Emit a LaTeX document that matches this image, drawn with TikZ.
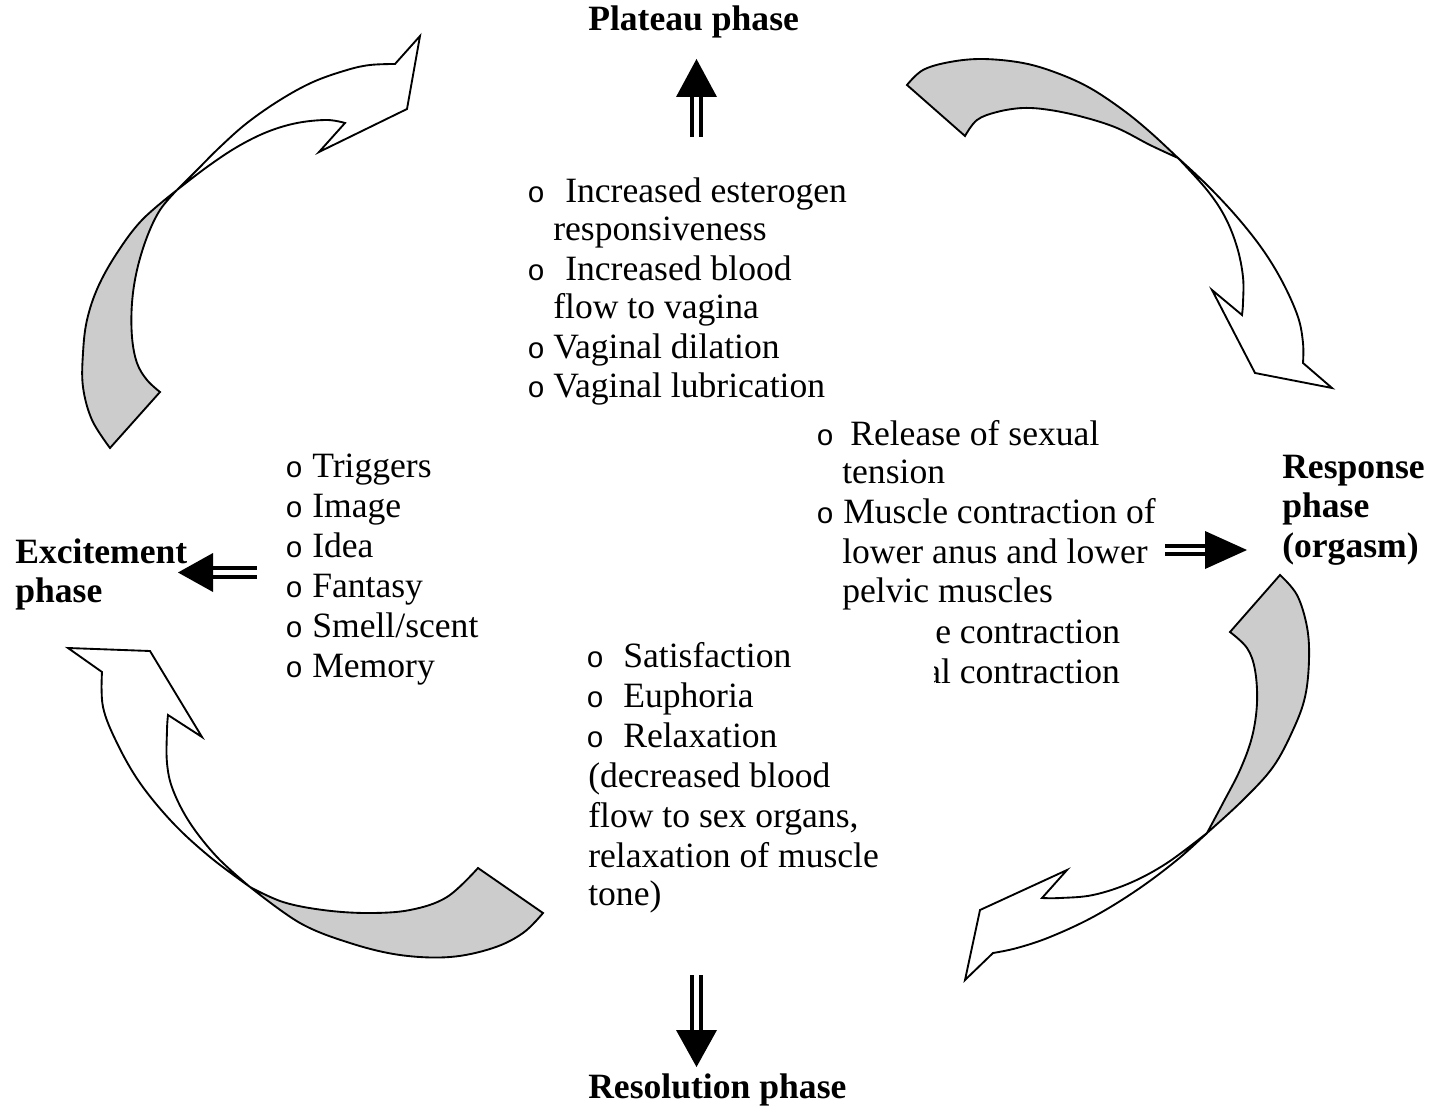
\documentclass[tikz,border=0pt]{standalone}
\usepackage{fontspec}
\setmainfont{Liberation Serif}
\newfontfamily\bulletfont{Liberation Mono}
\definecolor{ribbongray}{RGB}{204,204,204}

\begin{document}
\begin{tikzpicture}[x=0.75pt,y=-0.75pt,
  txt/.style={anchor=base west, inner sep=0pt, font=\fontsize{26.7}{32}\selectfont},
  hdr/.style={anchor=base west, inner sep=0pt, font=\fontsize{26.7}{32}\selectfont\bfseries},
  bul/.style={anchor=base west, inner sep=0pt, font=\fontsize{22}{26}\selectfont\bulletfont},
  under/.style={fill=ribbongray, draw=black, line width=1.4pt, line join=miter},
  over/.style={fill=white, draw=black, line width=1.4pt, line join=miter},
  dbl/.style={double, double distance=3.2pt, line width=3pt, draw=black},
  curve/.style={smooth, tension=0.6}]

\useasboundingbox (0,0) rectangle (1435,1106);

% ---------- curved ribbon arrows ----------
% top left: excitement -> plateau
\filldraw[under] plot[curve] coordinates {(110,448) (92,420) (83,387) (83,353) (87,320) (98,287) (117,253) (142,220) (177,190)}
  -- plot[curve] coordinates {(177,190) (160,210) (147,237) (137,270) (132,303) (132,337) (137,363) (147,380) (160,392)} -- cycle;
\filldraw[over] plot[curve] coordinates {(177,190) (197,170) (220,147) (247,123) (280,100) (313,82) (347,70) (370,65) (395,64)}
  -- (420,36) -- (407,109) -- (319,152) -- (345,123)
  -- plot[curve] coordinates {(345,123) (327,120) (297,123) (267,132) (237,147) (207,167) (177,190)} -- cycle;

% top right: plateau -> response
\filldraw[under] plot[curve] coordinates {(907,85) (923,70) (950,62) (983,59) (1023,63) (1057,73) (1090,88) (1123,110) (1150,132) (1178,158)}
  -- plot[curve] coordinates {(1178,158) (1150,145) (1117,128) (1083,117) (1050,110) (1023,108) (997,112) (977,120) (965,136)} -- cycle;
\filldraw[over] plot[curve] coordinates {(1178,158) (1207,185) (1237,217) (1263,250) (1283,283) (1298,317) (1303,343) (1303,363)}
  -- (1332,388) -- (1255,373) -- (1212,290) -- (1242,315)
  -- plot[curve] coordinates {(1242,315) (1243,303) (1243,277) (1237,247) (1225,217) (1207,190) (1178,158)} -- cycle;

% bottom right: response -> resolution
\filldraw[under] plot[curve] coordinates {(1280,575) (1297,595) (1307,627) (1309,660) (1305,697) (1293,730) (1273,767) (1243,800) (1207,833)}
  -- plot[curve] coordinates {(1207,833) (1223,803) (1240,770) (1252,737) (1257,703) (1255,670) (1247,648) (1230,632)} -- cycle;
\filldraw[over] plot[curve] coordinates {(1207,833) (1177,860) (1137,890) (1093,917) (1050,937) (1017,948) (993,953)}
  -- (965,980) -- (980,910) -- (1067,870) -- (1042,898)
  -- plot[curve] coordinates {(1042,898) (1060,898) (1093,895) (1130,883) (1167,863) (1207,833)} -- cycle;

% bottom left: resolution -> excitement
\filldraw[under] plot[curve] coordinates {(543,913) (523,933) (493,948) (450,957) (400,955) (350,943) (300,923) (250,887)}
  -- plot[curve] coordinates {(250,887) (283,902) (323,910) (367,913) (410,910) (447,897) (478,868)} -- cycle;
\filldraw[over] plot[curve] coordinates {(250,887) (210,857) (173,823) (140,783) (117,743) (103,707) (102,672)}
  -- (68,648) -- (150,651) -- (202,737) -- (168,715)
  -- plot[curve] coordinates {(168,715) (167,730) (167,763) (173,790) (190,823) (217,857) (250,887)} -- cycle;

% ---------- phase headings ----------
\node[hdr] (plateau) at (588,31) {Plateau phase};
\node[hdr] (exc1) at (15,563) {Excitement};
\node[hdr] (exc2) at (15,602) {phase};
\node[hdr] (resp1) at (1282,478) {Response};
\node[hdr] (resp2) at (1282,517) {phase};
\node[hdr] (resp3) at (1282,557) {(orgasm)};
\node[hdr] (resol) at (588,1098) {Resolution phase};

% ---------- plateau list ----------
\node[bul] (pb1) at (527,202) {o};
\node[txt] (pt1) at (565,202) {Increased esterogen};
\node[txt] (pt2) at (553,240) {responsiveness};
\node[bul] (pb2) at (527,280) {o};
\node[txt] (pt3) at (565,280) {Increased blood};
\node[txt] (pt4) at (553,318) {flow to vagina};
\node[bul] (pb3) at (527,358) {o};
\node[txt] (pt5) at (553,358) {Vaginal dilation};
\node[bul] (pb4) at (527,397) {o};
\node[txt] (pt6) at (553,397) {Vaginal lubrication};

% ---------- excitement list ----------
\foreach \w [count=\i from 0] in {Triggers,Image,Idea,Fantasy,Smell/scent,Memory}{
  \node[bul] (eb\i) at (285,477+40*\i) {o};
  \node[txt] (et\i) at (312,477+40*\i) {\w};
}

% ---------- response list ----------
\node[bul] (rb1) at (816,445) {o};
\node[txt] (rt1) at (850,445) {Release of sexual};
\node[txt] (rt2) at (842,483) {tension};
\node[bul] (rb2) at (816,523) {o};
\node[txt] (rt3) at (843,523) {Muscle contraction of};
\node[txt] (rt4) at (842,563) {lower anus and lower};
\node[txt] (rt5) at (842,602) {pelvic muscles};
\node[txt] (rt6) at (935,643) {e contraction};
\begin{scope}
  \clip (934,650) rectangle (1200,700);
  \node[txt] (rt7) at (925,683) {al contraction};
\end{scope}

% ---------- resolution list ----------
\node[bul] (sb1) at (586,667) {o};
\node[txt] (st1) at (623,667) {Satisfaction};
\node[bul] (sb2) at (586,707) {o};
\node[txt] (st2) at (623,707) {Euphoria};
\node[bul] (sb3) at (586,747) {o};
\node[txt] (st3) at (623,747) {Relaxation};
\node[txt] (st4) at (588,787) {(decreased blood};
\node[txt] (st5) at (588,827) {flow to sex organs,};
\node[txt] (st6) at (588,867) {relaxation of muscle};
\node[txt] (st7) at (588,905) {tone)};

% ---------- double-shafted arrows ----------
\coordinate (upS) at (696.5,137);  \coordinate (upB) at (696.5,95);
\draw[dbl] (upS) -- (upB);
\fill (696.5,59) -- (676,97) -- (717,97) -- cycle;

\coordinate (lfS) at (257,572.5);  \coordinate (lfB) at (211,572.5);
\draw[dbl] (lfS) -- (lfB);
\fill (178,572.5) -- (213,553) -- (213,592) -- cycle;

\coordinate (rtS) at (1165,550);   \coordinate (rtB) at (1207,550);
\draw[dbl] (rtS) -- (rtB);
\fill (1247,550) -- (1205,531) -- (1205,569) -- cycle;

\coordinate (dnS) at (696.5,975);  \coordinate (dnB) at (696.5,1032);
\draw[dbl] (dnS) -- (dnB);
\fill (696.5,1067) -- (676,1030) -- (717,1030) -- cycle;

\end{tikzpicture}
\end{document}
